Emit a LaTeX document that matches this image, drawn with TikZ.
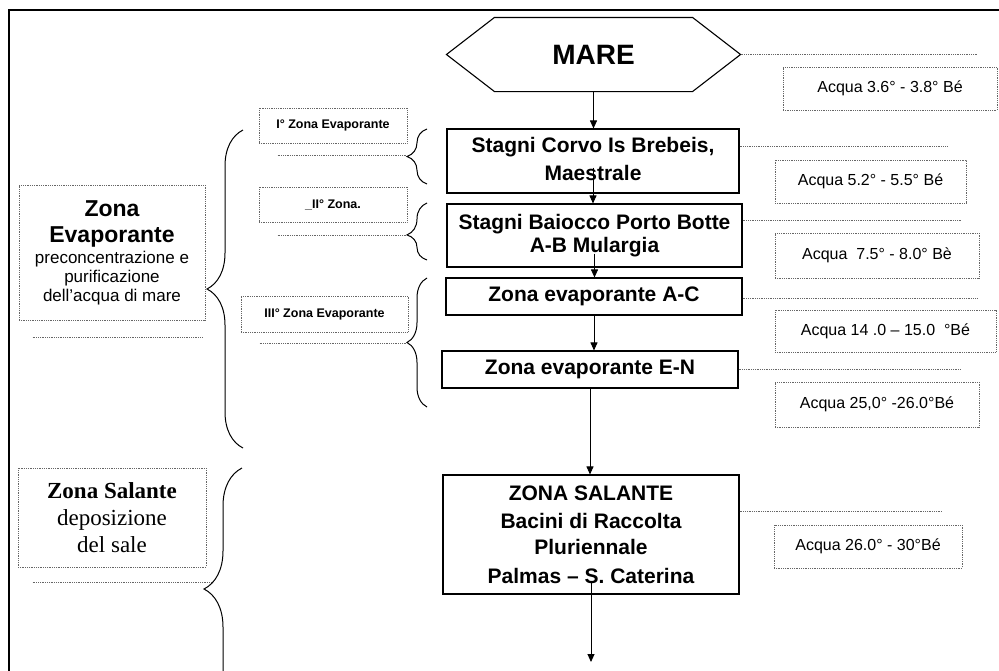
\documentclass[tikz,border=0pt]{standalone}
\usepackage{fontspec}
\setmainfont{Liberation Sans}
\newfontfamily\salefont{Liberation Serif}
\usepackage{tikz}
\usetikzlibrary{arrows.meta, calc, decorations.pathreplacing}

\newcommand{\zbig}{\fontsize{23}{25}\selectfont\bfseries}

\begin{document}
\begin{tikzpicture}[x=1pt, y=-1pt, >={Triangle[length=8pt, width=7pt]},
    flowbox/.style={draw, line width=1.1pt, inner sep=2pt, align=center, font=\fontsize{21}{23}\selectfont\bfseries},
    acqua/.style={draw=black!60, densely dotted, line width=0.8pt, inner sep=2pt, font=\fontsize{16}{18}\selectfont},
    zonetag/.style={draw=black!60, densely dotted, line width=0.8pt, inner sep=2pt, font=\fontsize{12.5}{14}\selectfont\bfseries, minimum height=35pt},
    guide/.style={draw=black!60, densely dotted, line width=0.8pt},
    flow/.style={->, line width=0.9pt},
    zbrace/.style={decorate, decoration={brace, amplitude=#1}, line width=1pt}]
    \useasboundingbox (0,0) rectangle (999,670);
    \clip (0,0) rectangle (999,670);

    \draw[line width=1.6pt] (9,700) -- (9,10) -- (1010,10);

    \node[flowbox, draw=none, minimum width=293pt, minimum height=73pt, font=\fontsize{28}{30}\selectfont\bfseries] (mare) at (593.5,54.5) {MARE};
    \draw[line width=1.1pt] (mare.west) -- ($(mare.north west)+(48,0)$) -- ($(mare.north east)+(-48,0)$) -- (mare.east)
          -- ($(mare.south east)+(-48,0)$) -- ($(mare.south west)+(48,0)$) -- cycle;

    \node[flowbox, minimum width=292pt, minimum height=64pt] (b1) at (593,161)   {\strut Stagni Corvo Is Brebeis,\\[5pt] Maestrale\rule[-6pt]{0pt}{6pt}};
    \node[flowbox, minimum width=295pt, minimum height=63pt] (b2) at (594.5,235.5) {Stagni Baiocco Porto Botte\\ A-B Mulargia};
    \node[flowbox, minimum width=296pt, minimum height=37pt] (b3) at (594,296.5) {Zona evaporante A-C};
    \node[flowbox, minimum width=296pt, minimum height=37pt] (b4) at (590,369.5) {Zona evaporante E-N};
    \node[flowbox, minimum width=296pt, minimum height=119pt] (b5) at (591,534.5)
        {ZONA SALANTE\\[5pt] Bacini di Raccolta\\[3pt] Pluriennale\\[6pt] Palmas – S. Caterina};
    \coordinate (outflow) at (591,662);

    \draw[flow] (mare.south) -- (mare.south |- b1.north);
    \draw[flow] ($(b1.south)+(0,-26)$) -- (b1.south |- b2.north);
    \draw[flow] ($(b2.south)+(0,-14)$) -- (b2.south |- b3.north);
    \draw[flow] (b3.south) -- (b3.south |- b4.north);
    \draw[flow] (b4.south) -- (b4.south |- b5.north);
    \draw[flow] ($(b5.south)+(0,-14)$) -- (b5.south |- outflow);

    \node[acqua, minimum width=214pt, minimum height=43pt] (a1) at (890,88.5)  {Acqua 3.6° - 3.8° Bé};
    \node[acqua, minimum width=191pt, minimum height=43pt] (a2) at (870.5,181.5) {Acqua 5.2° - 5.5° Bé};
    \node[acqua, minimum width=204pt, minimum height=45pt] (a3) at (877,255.5) {Acqua~ 7.5° - 8.0° Bè};
    \node[acqua, minimum width=221pt, minimum height=42pt] (a4) at (885.5,331) {Acqua 14 .0 – 15.0~~°Bé};
    \node[acqua, minimum width=204pt, minimum height=45pt] (a5) at (877,404.5) {Acqua 25,0° -26.0°Bé};
    \node[acqua, minimum width=188pt, minimum height=43pt] (a6) at (868,546.5) {Acqua 26.0° - 30°Bé};

    \draw[guide] (mare.east) -- ++(237,0);
    \draw[guide] ($(b1.north east)+(0,18)$) -- ++(208,0);
    \draw[guide] ($(b2.north east)+(0,17)$) -- ++(218,0);
    \draw[guide] ($(b3.east)+(0,1.5)$) -- ++(235,0);
    \draw[guide] (b4.east) -- ++(222,0);
    \draw[guide] ($(b5.north east)+(0,37)$) -- ++(203,0);

    \node[zonetag, minimum width=148pt] (t1) at (333,125.5) {I° Zona Evaporante};
    \node[zonetag, minimum width=148pt] (t2) at (333,204.5) {\_II° Zona.};
    \node[zonetag, minimum width=167pt, minimum height=36pt] (t3) at (324.5,314) {III° Zona Evaporante};

    \draw[guide] ($(t1.south west)+(19,12)$) -- ++(129,0);
    \draw[guide] ($(t2.south west)+(19,13)$) -- ++(129,0);
    \draw[guide] ($(t3.south west)+(19,11)$) -- ++(147,0);

    \draw[zbrace=20] (427,184) -- (427,129);
    \draw[zbrace=20, decoration={aspect=0.44}] (427,260) -- (427,203);
    \draw[zbrace=20] (427,407) -- (427,278);

    \node[acqua, minimum width=186pt, minimum height=135pt, align=center, font=\fontsize{17}{19}\selectfont] (ze) at (112,252.5)
        {{\zbig Zona}\\[7pt] {\zbig Evaporante}\\[2pt] preconcentrazione e\\ purificazione\\ dell'acqua di mare};
    \node[acqua, minimum width=188pt, minimum height=99pt, align=center, font=\salefont\fontsize{23}{27}\selectfont] (zs) at (112,517.5)
        {{\bfseries Zona Salante}\\ deposizione\\ del sale};

    \draw[guide] ($(ze.south west)+(14,17)$) -- ++(170,0);
    \draw[guide] ($(zs.south west)+(15,15)$) -- ++(180,0);

    \draw[zbrace=36] (243,448) -- (243,130);
    \draw[zbrace=38] (242,710) -- (242,468);
\end{tikzpicture}
\end{document}
